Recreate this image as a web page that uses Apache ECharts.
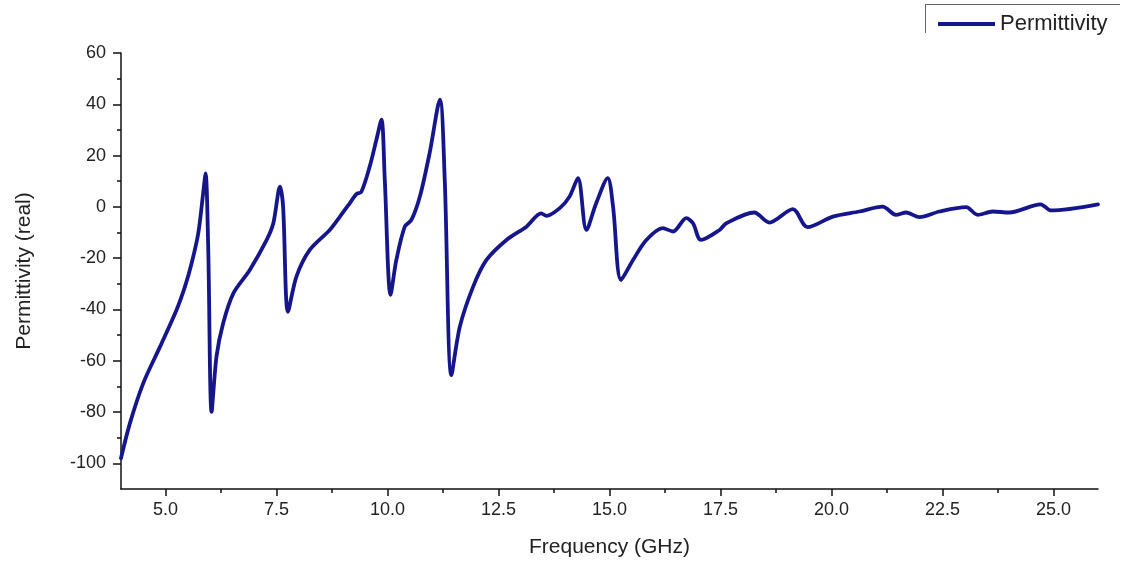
<!DOCTYPE html>
<html>
<head>
<meta charset="utf-8">
<script src="https://cdn.jsdelivr.net/npm/echarts@6/dist/echarts.min.js"></script>
<style>
  html, body { margin: 0; padding: 0; background: #ffffff; }
  #chart { width: 1125px; height: 563px; }
</style>
</head>
<body>
<div id="chart"></div>
<script>
// Frequency sweep (GHz) and real part of the effective permittivity
const frequency = [
  4.00, 4.20, 4.50, 4.88, 5.25, 5.44, 5.59, 5.74, 5.85, 5.905,
  5.965, 6.04, 6.15, 6.30, 6.53, 6.90, 7.28, 7.43, 7.58, 7.65,
  7.76, 7.95, 8.25, 8.70, 8.93, 9.15, 9.30, 9.41, 9.60, 9.75,
  9.865, 9.94, 10.07, 10.20, 10.39, 10.54, 10.73, 10.95, 11.18, 11.29,
  11.44, 11.63, 11.93, 12.23, 12.68, 13.13, 13.46, 13.58, 13.88, 14.10,
  14.29, 14.48, 14.70, 14.96, 15.08, 15.26, 15.53, 15.83, 16.20, 16.43,
  16.73, 16.88, 17.06, 17.48, 17.63, 18.26, 18.60, 19.13, 19.46, 20.03,
  20.63, 21.15, 21.45, 21.68, 21.98, 22.43, 23.03, 23.29, 23.63, 24.00,
  24.71, 24.94, 26.00
];
const permittivityReal = [
  -98.0, -84.4, -68.8, -54.5, -40.2, -31.1, -22.0, -10.3, 5.3, 13.1,
  -16.8, -79.9, -58.4, -45.4, -33.7, -24.6, -12.9, -6.4, 7.9, 0.1,
  -40.9, -27.2, -16.8, -9.0, -3.8, 1.4, 5.0, 5.8, 15.7, 26.1,
  34.0, 10.5, -34.3, -20.7, -7.7, -5.1, 4.0, 21.0, 41.8, 10.5,
  -65.6, -46.7, -31.1, -20.7, -12.9, -7.7, -2.5, -3.5, -0.5, 4.0,
  11.2, -9.0, 1.4, 11.2, 0.1, -28.5, -20.7, -12.9, -8.3, -9.6,
  -4.4, -6.4, -12.9, -9.0, -6.4, -2.2, -6.1, -0.9, -7.9, -3.8,
  -1.8, 0.1, -3.1, -2.2, -4.0, -1.8, -0.1, -3.1, -1.8, -2.2,
  1.0, -1.4, 1.0
];

// Axis tick positions
const xMajorTicks = [5.0, 7.5, 10.0, 12.5, 15.0, 17.5, 20.0, 22.5, 25.0];
const xMinorTicks = [6.25, 8.75, 11.25, 13.75, 16.25, 18.75, 21.25, 23.75];
const yMajorTicks = [-100, -80, -60, -40, -20, 0, 20, 40, 60];
const yMinorTicks = [-90, -70, -50, -30, -10, 10, 30, 50];

const seriesData = frequency.map((f, i) => [f, permittivityReal[i]]);

const FONT = 'Liberation Sans, Arial, sans-serif';
const TEXT = '#222222';
const AXIS = '#111111';
const LINE = '#16168c';

const chart = echarts.init(document.getElementById('chart'), null, { renderer: 'canvas' });

chart.setOption({
  backgroundColor: '#ffffff',
  animation: false,
  grid: { left: 121, right: 27, top: 53, bottom: 74, containLabel: false },
  legend: {
    left: 933,
    top: 8,
    icon: 'rect',
    itemWidth: 57,
    itemHeight: 4,
    textStyle: { fontFamily: FONT, fontSize: 22, color: TEXT, padding: [0, 0, 0, 0] },
    data: [{ name: 'Permittivity', itemStyle: { color: LINE } }]
  },
  graphic: [
    { type: 'line', shape: { x1: 925, y1: 4.5, x2: 1120, y2: 4.5 }, style: { stroke: '#666', lineWidth: 1 } },
    { type: 'line', shape: { x1: 925.5, y1: 4, x2: 925.5, y2: 33 }, style: { stroke: '#666', lineWidth: 1 } }
  ],
  xAxis: [
    {
      type: 'value',
      min: 4,
      max: 26,
      name: 'Frequency (GHz)',
      nameLocation: 'middle',
      nameGap: 48,
      nameTextStyle: { fontFamily: FONT, fontSize: 21, color: TEXT },
      axisLine: { show: true, onZero: false, lineStyle: { color: AXIS, width: 1.5 } },
      axisTick: { show: true, inside: false, length: 7, customValues: xMajorTicks, lineStyle: { color: AXIS, width: 1.5 } },
      axisLabel: {
        customValues: xMajorTicks,
        margin: 12,
        fontFamily: FONT, fontSize: 18, color: TEXT,
        formatter: v => v.toFixed(1)
      },
      splitLine: { show: false }
    },
    {
      type: 'value',
      min: 4,
      max: 26,
      position: 'bottom',
      axisLine: { show: false, onZero: false },
      axisTick: { show: true, inside: false, length: 4, customValues: xMinorTicks, lineStyle: { color: AXIS, width: 1.5 } },
      axisLabel: { show: false },
      splitLine: { show: false }
    }
  ],
  yAxis: [
    {
      type: 'value',
      min: -110,
      max: 60,
      name: 'Permittivity (real)',
      nameLocation: 'middle',
      nameGap: 86,
      nameTextStyle: { fontFamily: FONT, fontSize: 21, color: TEXT },
      axisLine: { show: true, onZero: false, lineStyle: { color: AXIS, width: 1.5 } },
      axisTick: { show: true, inside: false, length: 8, customValues: yMajorTicks, lineStyle: { color: AXIS, width: 1.5 } },
      axisLabel: { customValues: yMajorTicks, margin: 15, fontFamily: FONT, fontSize: 18, color: TEXT },
      splitLine: { show: false }
    },
    {
      type: 'value',
      min: -110,
      max: 60,
      position: 'left',
      offset: 0,
      axisLine: { show: false, onZero: false },
      axisTick: { show: true, inside: false, length: 4, customValues: yMinorTicks, lineStyle: { color: AXIS, width: 1.5 } },
      axisLabel: { show: false },
      splitLine: { show: false }
    }
  ],
  series: [
    {
      name: 'Permittivity',
      type: 'line',
      xAxisIndex: 0,
      yAxisIndex: 0,
      data: seriesData,
      symbol: 'none',
      smooth: 0.3,
      lineStyle: { color: LINE, width: 3.8, join: 'round', cap: 'round' },
      itemStyle: { color: LINE }
    }
  ]
});
</script>
</body>
</html>
